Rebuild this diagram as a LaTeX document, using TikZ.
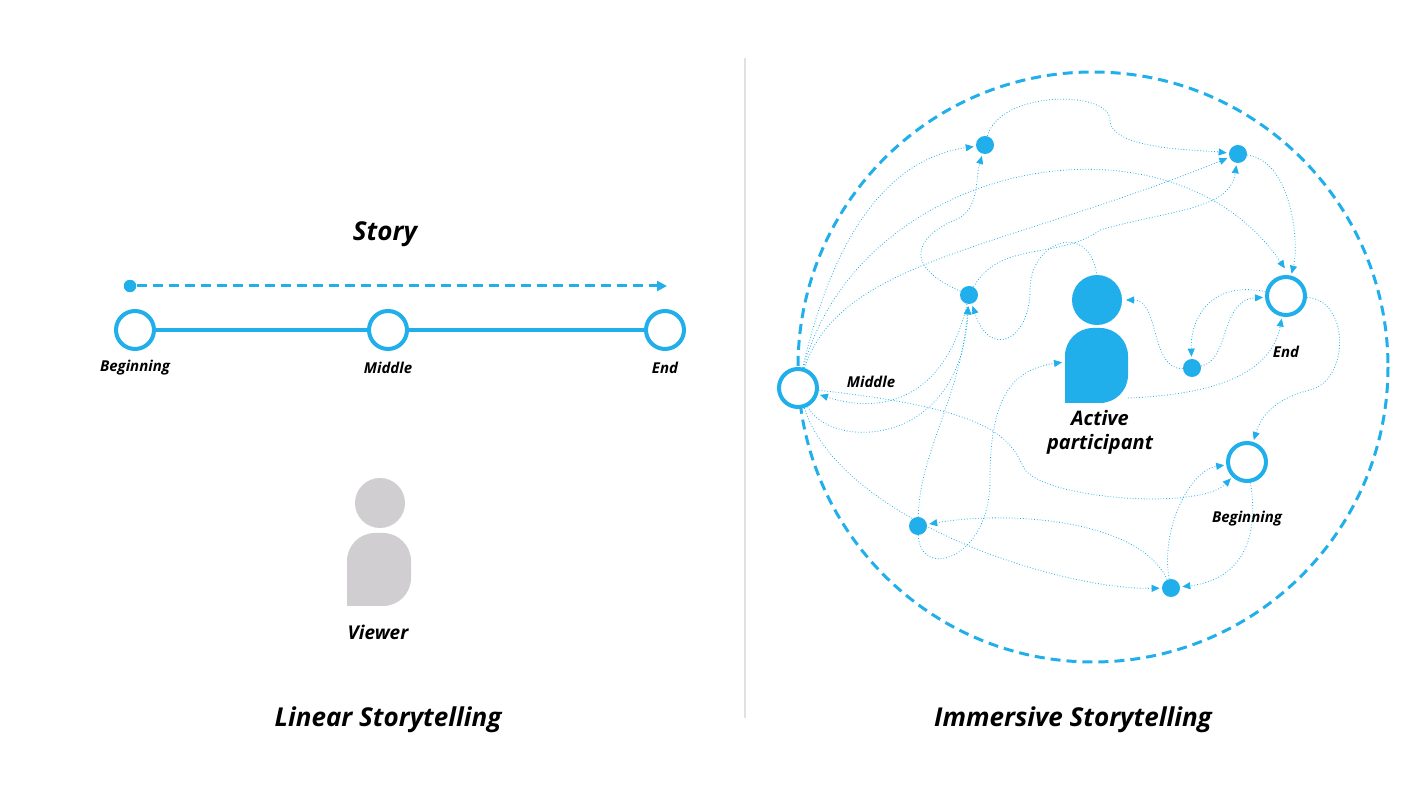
\documentclass[tikz,border=0pt]{standalone}
\usepackage{fontspec}
\setmainfont{Open Sans}
\usetikzlibrary{arrows.meta}
\definecolor{StoryBlue}{RGB}{32,175,235}
\definecolor{ViewerGray}{RGB}{208,206,208}
\definecolor{RuleGray}{RGB}{225,225,225}
\begin{document}
\begin{tikzpicture}[
	% one unit is one pixel of the reference
	x=0.5pt, y=-0.5pt,
	open/.style={circle, draw=StoryBlue, line width=2pt, fill=white, minimum size=19pt, inner sep=0pt},
	dot/.style={circle, fill=StoryBlue, minimum size=9pt, inner sep=0pt},
	tag/.style={font=\itshape\bfseries\fontsize{7.5}{9}\selectfont},
	title/.style={font=\itshape\bfseries\fontsize{13}{15}\selectfont},
	flow/.style={StoryBlue, densely dotted, line width=0.4pt, -{Triangle[length=4pt,width=3.5pt]}, shorten >=1pt}
	]
	\useasboundingbox (0,0) rectangle (1426,801);

	% linear storytelling
	\draw[RuleGray, line width=0.6pt] (745,58) -- (745,718);
	\node[title] (Story) at (385,234) {Story};
	\node[circle, fill=StoryBlue, inner sep=2.2pt] (Start) at (130,286) {};
	\coordinate (Finish) at (667,286);
	\draw[StoryBlue, dashed, line width=1.5pt, dash pattern=on 5pt off 3pt, -{Triangle[length=5pt,width=5pt]}] (Start) -- (Finish);
	\node[open] (LinBeg) at (135,330) {};
	\node[open] (LinMid) at (388,330) {};
	\node[open] (LinEnd) at (665,330) {};
	\draw[StoryBlue, line width=2pt] (LinBeg) -- (LinMid) -- (LinEnd);
	\node[tag] at (135,368) {Beginning};
	\node[tag] at (388,368) {Middle};
	\node[tag] at (665,368) {End};
	\fill[ViewerGray] (380,503) circle (25);
	\fill[ViewerGray, rounded corners=14pt] (347,606) -- (347,533) -- (411,533) -- (411,606) [sharp corners] -- cycle;
	\node[tag, font=\itshape\bfseries\fontsize{9.5}{11}\selectfont] (Viewer) at (378,632) {Viewer};
	\node[title] (LinTitle) at (388,720) {Linear Storytelling};

	% immersive storytelling
	\draw[StoryBlue, line width=1.5pt, dash pattern=on 5pt off 3pt] (1093,367) circle (295);
	\fill[StoryBlue] (1097,300) circle (25);
	\fill[StoryBlue, rounded corners=14pt] (1065,403) -- (1065,328) -- (1128,328) -- (1128,403) [sharp corners] -- cycle;
	\node[title, align=center, font=\itshape\bfseries\fontsize{10}{12}\selectfont] (Active) at (1100,432) {Active\\participant};
	\node[title] (ImmTitle) at (1073,720) {Immersive Storytelling};

	\node[open] (Mid) at (798,388) {};
	\node[open] (End) at (1286,296) {};
	\node[open] (Beg) at (1247,462) {};
	\node[dot] (A) at (985,145) {};
	\node[dot] (B) at (1238,154) {};
	\node[dot] (C) at (969,295) {};
	\node[dot] (D) at (1192,368) {};
	\node[dot] (E) at (918,526) {};
	\node[dot] (F) at (1171,588) {};
	\coordinate (Head) at (1097,276);
	\coordinate (BodyL) at (1064,362);
	\coordinate (BodyR) at (1128,398);
	\coordinate (HeadR) at (1124,300);
	\node[tag] at (871,382) {Middle};
	\node[tag] at (1286,352) {End};
	\node[tag] at (1247,519) {Beginning};

	\draw[flow] (Mid) .. controls (830,250) and (880,160) .. (A);
	\draw[flow] (A) .. controls (1000,90) and (1110,90) .. (1110,120) .. controls (1110,150) and (1200,150) .. (B);
	\draw[flow] (B) .. controls (1290,160) and (1300,240) .. (End);
	\draw[flow] (Mid) .. controls (860,160) and (1170,100) .. (1286,270);
	\draw[flow] (Mid) .. controls (840,260) and (1000,250) .. (B);
	\draw[flow] (C) .. controls (890,260) and (930,230) .. (955,220) .. controls (980,210) and (975,180) .. (A);
	\draw[flow] (Head) .. controls (1090,220) and (1030,240) .. (1030,290) .. controls (1030,340) and (990,360) .. (C);
	\draw[flow] (C) .. controls (1000,240) and (1060,260) .. (1100,230) .. controls (1170,210) and (1230,210) .. (B);
	\draw[flow] (D) .. controls (1150,370) and (1160,300) .. (HeadR);
	\draw[flow] (D) .. controls (1230,360) and (1220,300) .. (End);
	\draw[flow] (End) .. controls (1210,280) and (1190,320) .. (D);
	\draw[flow] (BodyR) .. controls (1200,395) and (1270,380) .. (End);
	\draw[flow] (End) .. controls (1350,300) and (1350,380) .. (1310,390) .. controls (1270,400) and (1260,420) .. (Beg);
	\draw[flow] (Mid) .. controls (1000,410) and (1010,440) .. (1025,470) .. controls (1050,500) and (1200,510) .. (Beg);
	\draw[flow] (Beg) .. controls (1260,540) and (1240,580) .. (F);
	\draw[flow] (F) .. controls (1160,530) and (1190,470) .. (Beg);
	\draw[flow] (F) .. controls (1140,520) and (1010,510) .. (E);
	\draw[flow] (E) .. controls (920,450) and (960,400) .. (C);
	\draw[flow] (E) .. controls (920,580) and (990,560) .. (990,480) .. controls (990,400) and (1010,370) .. (BodyL);
	\draw[flow] (Mid) .. controls (840,520) and (1060,590) .. (F);
	\draw[flow] (Mid) .. controls (830,450) and (960,450) .. (C);
	\draw[flow] (C) .. controls (950,380) and (900,420) .. (Mid);
\end{tikzpicture}
\end{document}
